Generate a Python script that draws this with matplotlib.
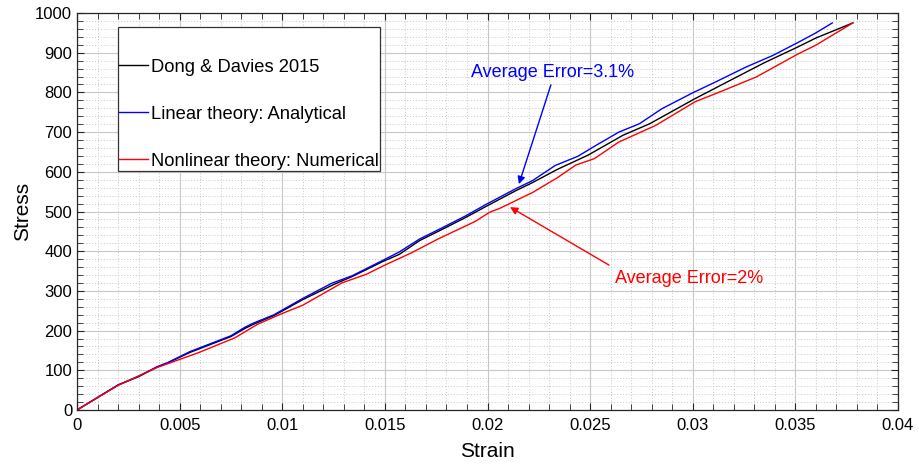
import matplotlib
matplotlib.use("Agg")
import matplotlib.pyplot as plt
from matplotlib.ticker import MultipleLocator, FixedLocator

plt.rcParams['font.family'] = ['Liberation Sans', 'DejaVu Sans']

# Stress-strain curves
strain_ref = [0, 0.002, 0.003, 0.0039, 0.0044, 0.0055, 0.007, 0.0075, 0.0082, 0.0086,
              0.0096, 0.011, 0.0125, 0.0134, 0.0149, 0.0157, 0.0167, 0.0176, 0.0189,
              0.0199, 0.0214, 0.0222, 0.0234, 0.0249, 0.0266, 0.0279, 0.0301, 0.0323,
              0.0335, 0.0351, 0.036, 0.0378]
stress_ref = [0, 63, 84, 108, 118, 145, 175, 185, 206, 216,
              238, 278, 316, 336, 374, 392, 427, 450, 484,
              512, 553, 573, 606, 642, 692, 721, 784, 843,
              875, 914, 937, 975]

strain_lin = [0, 0.002, 0.003, 0.0039, 0.0044, 0.0055, 0.007, 0.0075, 0.0082, 0.0086,
              0.0096, 0.011, 0.0124, 0.0134, 0.0149, 0.0157, 0.0167, 0.0176, 0.0189,
              0.0199, 0.0214, 0.0222, 0.0233, 0.0244, 0.0253, 0.0264, 0.0274, 0.0285,
              0.0300, 0.0311, 0.0326, 0.0339, 0.0351, 0.036, 0.0368]
stress_lin = [0, 63, 85, 109, 119, 147, 177, 187, 209, 219,
              240, 281, 319, 338, 377, 398, 431, 454, 488,
              517, 558, 578, 616, 639, 667, 700, 721, 759,
              799, 826, 864, 893, 925, 950, 975]

strain_nl = [0, 0.002, 0.0039, 0.0059, 0.0077, 0.0088, 0.0099, 0.011, 0.0125, 0.0129,
             0.0141, 0.015, 0.0163, 0.0176, 0.0194, 0.0201, 0.0206, 0.0222, 0.0234,
             0.0243, 0.0252, 0.0264, 0.0282, 0.0301, 0.0315, 0.0331, 0.0351, 0.036,
             0.0368, 0.0378]
stress_nl = [0, 62, 107, 144, 182, 216, 241, 264, 308, 320,
             342, 365, 396, 431, 475, 498, 508, 548, 585,
             617, 633, 675, 717, 776, 805, 839, 896, 919,
             944, 975]

x_ticks = [0, 0.005, 0.01, 0.015, 0.02, 0.025, 0.03, 0.035, 0.04]
x_tick_labels = ['0', '0.005', '0.01', '0.015', '0.02', '0.025', '0.03', '0.035', '0.04']
y_ticks = [0, 100, 200, 300, 400, 500, 600, 700, 800, 900, 1000]

fig = plt.figure(figsize=(9.19, 4.67), dpi=100)
ax = fig.add_axes([77 / 919, 1 - 410 / 467, 821 / 919, 397 / 467])

ax.plot(strain_ref, stress_ref, color='black', lw=1.0, label='Dong & Davies 2015')
ax.plot(strain_lin, stress_lin, color='#0000ff', lw=1.0, label='Linear theory: Analytical')
ax.plot(strain_nl, stress_nl, color='#ff0000', lw=1.0, label='Nonlinear theory: Numerical')

ax.set_xlim(0, 0.04)
ax.set_ylim(0, 1000)
ax.xaxis.set_major_locator(FixedLocator(x_ticks))
ax.set_xticklabels(x_tick_labels)
ax.yaxis.set_major_locator(FixedLocator(y_ticks))
ax.xaxis.set_minor_locator(MultipleLocator(0.001))
ax.yaxis.set_minor_locator(MultipleLocator(20))

ax.grid(which='major', color='#c8c8c8', lw=0.8, ls='-')
ax.grid(which='minor', color='#c8c8c8', lw=0.7, ls=(0, (1, 2)))
ax.set_axisbelow(True)

ax.tick_params(which='both', direction='in', top=True, right=True, colors='#262626',
               labelcolor='black', labelsize=12)
ax.tick_params(which='major', length=5, width=0.8)
ax.tick_params(which='minor', length=4, width=0.6)
ax.tick_params(axis='x', which='major', pad=6)
ax.tick_params(axis='y', which='major', pad=3.5)
for s in ax.spines.values():
    s.set_color('#262626')
    s.set_linewidth(0.9)

ax.set_xlabel('Strain', fontsize=15, labelpad=6.5)
ax.set_ylabel('Stress', fontsize=15, labelpad=2)

leg = ax.legend(loc='upper left', bbox_to_anchor=(0.05, 0.965), fontsize=13.2,
                title=' ', title_fontsize=1, frameon=True, fancybox=False,
                framealpha=1, edgecolor='#333333', handlelength=1.55,
                handletextpad=0.2, borderpad=0.06, labelspacing=1.63,
                borderaxespad=0)
leg.get_frame().set_linewidth(0.9)

# Error annotations
ax.text(0.02319, 851, 'Average Error=3.1%', color='#0000ff', fontsize=13,
        ha='center', va='center')
ax.annotate('', xy=(0.02153, 569), xytext=(0.02309, 819),
            arrowprops=dict(arrowstyle='-|>', color='#0000ff', lw=1.0,
                            mutation_scale=11, shrinkA=0, shrinkB=0))
ax.text(0.02982, 330, 'Average Error=2%', color='#ff0000', fontsize=13,
        ha='center', va='center')
ax.annotate('', xy=(0.02110, 511), xytext=(0.02592, 365),
            arrowprops=dict(arrowstyle='-|>', color='#ff0000', lw=1.0,
                            mutation_scale=11, shrinkA=0, shrinkB=0))

fig.savefig('out.png', dpi=100)
